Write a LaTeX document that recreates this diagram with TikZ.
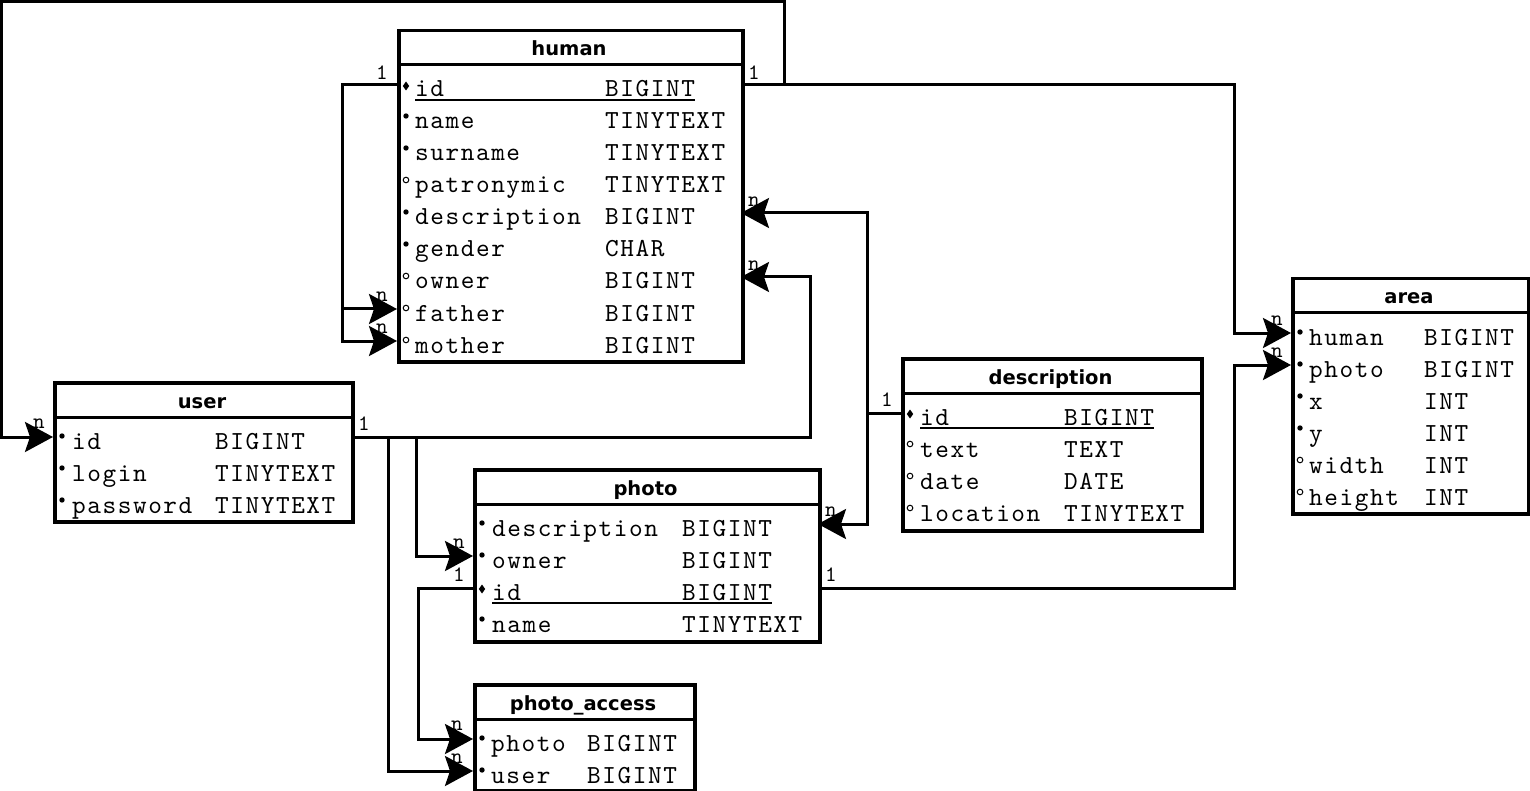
\documentclass[tikz,border=0pt]{standalone}
\usepackage{fontspec}
\usetikzlibrary{arrows.meta,calc}
\newfontfamily\monof{lmmono10-regular.otf}[LetterSpace=6]
\newfontfamily\lblfont{lmmono10-regular.otf}
\newfontfamily\hdrfont{DejaVu Sans}
\def\keyname{k}
\tikzset{
  tbox/.style={draw, rectangle, anchor=north west, inner sep=0pt, line width=3.5pt, fill=white},
  sepline/.style={line width=3pt},
  fld/.style={anchor=base west, inner sep=0pt, font=\monof\fontsize{26}{26}\selectfont},
  hdr/.style={anchor=base, inner sep=0pt, font=\hdrfont\bfseries\fontsize{19.5}{20}\selectfont},
  lbl/.style={inner sep=0pt, font=\lblfont\fontsize{22}{22}\selectfont},
  conn/.style={line width=3pt, -{Stealth[length=28pt,width=30pt,inset=5pt]}},
}
\newcommand\mkk[2]{\fill ({#1},{#2-11-4.5}) -- ({#1+3.2},{#2-11}) -- ({#1},{#2-11+4.5}) -- ({#1-3.2},{#2-11}) -- cycle;}
\newcommand\mkr[2]{\fill ({#1},{#2-13}) circle[radius=2.7pt];}
\newcommand\mko[2]{\draw[line width=1pt] ({#1},{#2-13}) circle[radius=2.8pt];}
\newcommand\dbtab[8]{%
  \pgfmathsetmacro\tw{#5-#3}\pgfmathsetmacro\th{#6-#4}%
  \node[tbox, minimum width=\tw pt, minimum height=\th pt] (#1) at (#3,#4) {};
  \draw[sepline] (#3,#4+36) -- (#5,#4+36);
  \node[hdr] (#1-title) at ({(#3+#5)/2},#4+27) {#2};
  \def\tL{#3}\def\tT{#4}\def\tR{#5}\def\fx{#7}\def\tx{#8}\def\tid{#1}%
}
\newcommand\dbrows[1]{%
  \foreach \m/\f/\t [count=\i from 0] in {#1} {
    \pgfmathsetmacro\by{\tT+68+32*\i}
    \csname mk\m\endcsname{\tL+9}{\by}
    \node[fld] (\tid-f\i) at (\fx,\by) {\f};
    \node[fld] (\tid-t\i) at (\tx,\by) {\t};
    \coordinate (\tid-r\i-w) at (\tL,\by-12);
    \coordinate (\tid-r\i-e) at (\tR,\by-12);
    \ifx\m\keyname
      \draw[line width=1.5pt] ($(\tid-f\i.base west)+(0,3)$) -- ($(\tid-t\i.base east)+(0,3)$);
    \fi
  }%
}
\begin{document}
\begin{tikzpicture}[x=1pt,y=-1pt]
\fill[white] (0,0) rectangle (1530,791);
\useasboundingbox (0,0) rectangle (1530,791);

\dbtab{human}{human}{397}{29}{741}{360}{415}{605}
\dbrows{k/id/BIGINT, r/name/TINYTEXT, r/surname/TINYTEXT, o/patronymic/TINYTEXT, r/description/BIGINT, r/gender/CHAR, o/owner/BIGINT, o/father/BIGINT, o/mother/BIGINT}

\dbtab{user}{user}{53}{381}{351}{520}{72}{215}
\dbrows{r/id/BIGINT, r/login/TINYTEXT, r/password/TINYTEXT}

\dbtab{photo}{photo}{473}{468}{818}{640}{492}{682}
\dbrows{r/description/BIGINT, r/owner/BIGINT, k/id/BIGINT, r/name/TINYTEXT}

\dbtab{pa}{photo\_access}{473}{683}{693}{789}{491}{587}
\dbrows{r/photo/BIGINT, r/user/BIGINT}

\dbtab{desc}{description}{901}{357}{1200}{529}{920}{1064}
\dbrows{k/id/BIGINT, o/text/TEXT, o/date/DATE, o/location/TINYTEXT}

\dbtab{area}{area}{1291}{277}{1527}{512}{1309}{1424}
\dbrows{r/human/BIGINT, r/photo/BIGINT, r/x/INT, r/y/INT, o/width/INT, o/height/INT}

\coordinate (tl) at (1.5,1.5);

\draw[conn] (human-r0-w) -- ++(-55,0) |- (human-r7-w);
\draw[conn] (human-r0-w) -- ++(-55,0) |- (human-r8-w);
\draw[conn] (human-r0-e) -- ++(43,0) |- (tl) |- (user-r0-w);
\draw[conn] (human-r0-e) -- ++(493,0) |- (area-r0-w);
\draw[conn] (user-r0-e) -- ++(459,0) |- (human-r6-e);
\draw[conn] (user-r0-e) -- ++(65,0) |- (photo-r1-w);
\draw[conn] (user-r0-e) -- ++(37,0) |- (pa-r1-w);
\draw[conn] (photo-r2-w) -- ++(-55,0) |- (pa-r0-w);
\draw[conn] (desc-r0-w) -- ++(-34,0) |- (human-r4-e);
\draw[conn] (desc-r0-w) -- ++(-34,0) |- (photo-r0-e);
\draw[conn] (photo-r2-e) -- ++(416,0) |- (area-r1-w);

% cardinality labels
\node[lbl] (c1) at ($(human-r0-w)+(-15,-12)$) {1};
\node[lbl] (c2) at ($(human-r0-e)+(13,-12)$) {1};
\node[lbl] (c3) at ($(user-r0-e)+(13,-13)$) {1};
\node[lbl] (c4) at ($(desc-r0-w)+(-14,-13)$) {1};
\node[lbl] (c5) at ($(photo-r2-w)+(-14,-13)$) {1};
\node[lbl] (c6) at ($(photo-r2-e)+(13,-13)$) {1};
\node[lbl] (n1) at ($(human-r4-e)+(13,-11)$) {n};
\node[lbl] (n2) at ($(human-r6-e)+(13,-11)$) {n};
\node[lbl] (n3) at ($(human-r7-w)+(-15,-12)$) {n};
\node[lbl] (n4) at ($(human-r8-w)+(-15,-12)$) {n};
\node[lbl] (n5) at ($(user-r0-w)+(-14,-13)$) {n};
\node[lbl] (n6) at ($(area-r0-w)+(-14,-12)$) {n};
\node[lbl] (n7) at ($(area-r1-w)+(-14,-12)$) {n};
\node[lbl] (n8) at ($(photo-r1-w)+(-14,-12)$) {n};
\node[lbl] (n9) at ($(photo-r0-e)+(13,-12)$) {n};
\node[lbl] (n10) at ($(pa-r0-w)+(-16,-13)$) {n};
\node[lbl] (n11) at ($(pa-r1-w)+(-16,-12)$) {n};
\end{tikzpicture}
\end{document}
